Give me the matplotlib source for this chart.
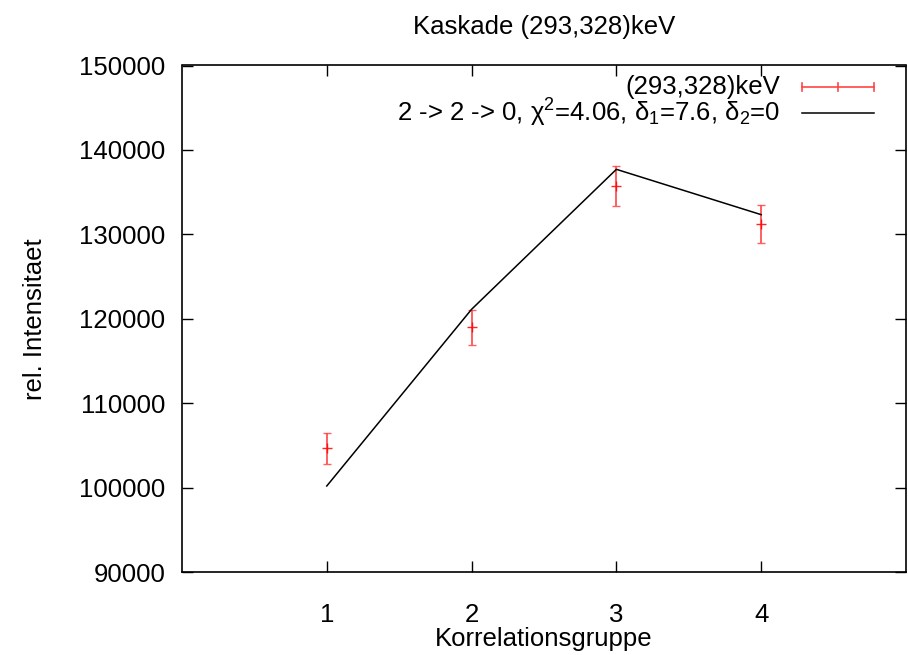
import numpy as np
import matplotlib
matplotlib.use('Agg')
import matplotlib.pyplot as plt

plt.rcParams['font.family'] = ['Liberation Sans', 'DejaVu Sans']
plt.rcParams['mathtext.fontset'] = 'custom'
plt.rcParams['mathtext.rm'] = 'Liberation Sans'
plt.rcParams['mathtext.it'] = 'Liberation Sans'

# data
gruppe = [1, 2, 3, 4]
intens = [104650, 118990, 135760, 131260]
fehler = [1800, 2070, 2390, 2270]
fit = [100190, 121120, 137700, 132330]

fs = 18.5
fig = plt.figure(figsize=(9.08, 6.55), dpi=100)
ax = fig.add_axes([0.2004, 0.1267, 0.7974, 0.7733])

ax.errorbar(gruppe, intens, yerr=fehler, fmt='+', color='#ff0000', ecolor='#ff4444',
            elinewidth=1.4, capsize=3.2, capthick=1.4, markersize=7, mew=1.0, alpha=0.85)
ax.plot(gruppe, fit, color='black', lw=1.1)

ax.set_xlim(0, 5)
ax.set_ylim(90000, 150000)
ax.set_xticks([1, 2, 3, 4])
ax.set_yticks(np.arange(90000, 150001, 10000))
ax.tick_params(direction='in', length=8, width=1, top=True, right=True, labelsize=fs)
ax.tick_params(axis='x', pad=22)
ax.tick_params(axis='y', pad=12)
for s in ax.spines.values():
    s.set_linewidth(1.2)

ax.set_title('Kaskade (293,328)keV', fontsize=fs, pad=23)
ax.set_xlabel('Korrelationsgruppe', fontsize=fs, labelpad=0)
ax.set_ylabel('rel. Intensitaet', fontsize=fs, labelpad=23)

# gnuplot style key
tr = ax.transAxes
y1, y2 = 0.9576, 0.906
ax.text(0.826, y1, '(293,328)keV', transform=tr, ha='right', va='center', fontsize=fs)
ax.plot([0.857, 0.956], [y1, y1], color='#ff4444', lw=1.2, transform=tr)
for xx in [0.857, 0.9065, 0.956]:
    ax.plot([xx, xx], [y1 - 0.008, y1 + 0.008], color='#ff4444', lw=1.2, transform=tr)
ax.text(0.826, y2, '2 -> 2 -> 0, χ$^2$=4.06, δ$_1$=7.6, δ$_2$=0', transform=tr,
        ha='right', va='center', fontsize=fs)
ax.plot([0.857, 0.956], [y2, y2], color='black', lw=1.1, transform=tr)

plt.savefig('out.png', dpi=100)
